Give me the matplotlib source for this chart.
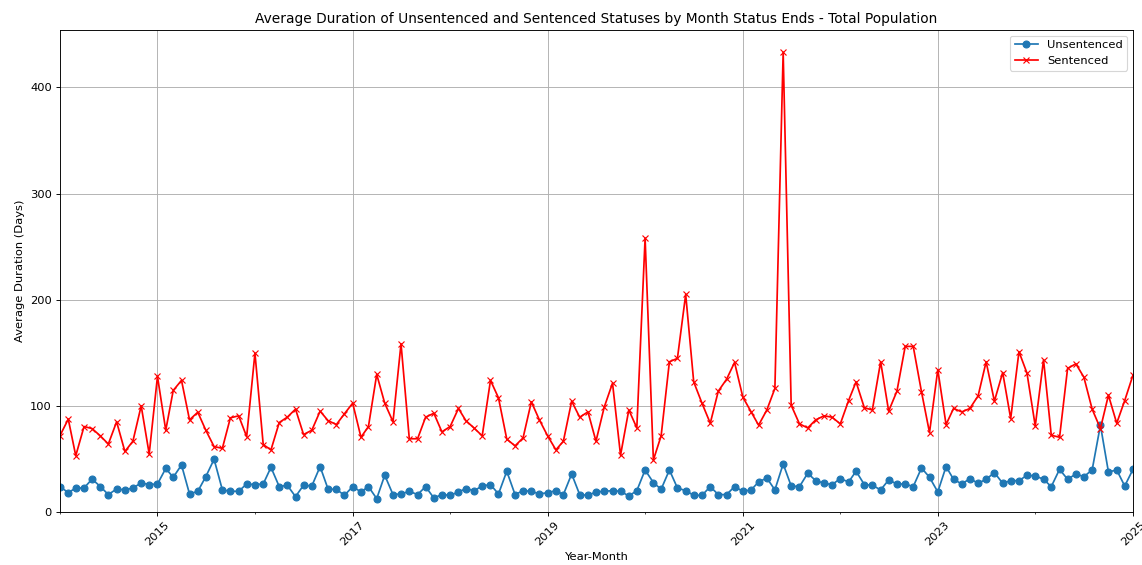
import pandas as pd
import matplotlib.pyplot as plt
import matplotlib.dates as mdates
from matplotlib.ticker import FixedLocator
from datetime import datetime

# Monthly averages, Jan 2014 - Jan 2025
months = pd.date_range('2014-01-01', periods=133, freq='MS')

unsentenced = [
    23.9, 18.2, 22.6, 22.6, 31, 24, 16.4, 21.7, 20.8, 22.6, 27.4, 25.8,
    26.4, 41, 32.7, 44.3, 17, 19.5, 33.3, 49.7, 20.8, 19.5, 19.5, 26.4,
    25.8, 26.4, 42.1, 23.9, 25.2, 14.5, 25.2, 24.5, 42.8, 21.4, 21.4, 15.7,
    23.9, 18.9, 23.9, 12.6, 34.6, 16.4, 17, 19.5, 16.4, 23.9, 13.2, 16.4,
    15.7, 18.9, 22, 20.1, 24.5, 25.8, 17, 38.4, 16.4, 20.1, 19.5, 17,
    18.2, 20.1, 16.4, 35.8, 16.4, 15.7, 18.9, 19.5, 20.1, 19.5, 15.1, 20.1,
    39.6, 27.7, 21.4, 39.6, 22.6, 20.1, 15.7, 15.7, 23.9, 16.4, 16.4, 23.9,
    19.5, 20.8, 28.3, 32, 20.8, 45.3, 24.5, 23.9, 36.5, 29.5, 27.1, 25.8,
    31.4, 28.3, 38.4, 25.8, 25.2, 20.8, 30.2, 26.4, 26.4, 23.9, 41.5, 32.7,
    18.9, 42.8, 30.8, 26.4, 31.4, 27.1, 30.8, 37.1, 27.1, 29.5, 29.5, 34.6,
    34, 30.8, 23.9, 40.2, 30.8, 35.8, 33.3, 39.6, 81.8, 37.7, 39.6, 24.5,
    40.2,
]

sentenced = [
    72, 87.5, 53, 80.5, 78.6, 71.7, 64, 85, 57, 66.7, 100, 54.7,
    127.7, 77, 114.5, 124, 86.8, 94, 77, 61.6, 60, 88.7, 90.6, 71,
    149.7, 63.5, 58.5, 84.3, 89.3, 96.9, 73, 77, 95, 86, 82.4, 92.5,
    102.5, 70.4, 80.5, 129.6, 102.5, 85, 158.5, 69, 69, 89.3, 93, 75.5,
    80.5, 97.5, 86, 79, 71.7, 124, 107.5, 68.6, 62.3, 69.8, 103.8, 86.8,
    71.7, 58.5, 66.7, 104.4, 89.3, 94.3, 66.7, 98.8, 121.4, 53.5, 96.2, 79.2,
    258, 49, 71.7, 141.5, 144.7, 205, 122.6, 102.5, 83.6, 113.8, 125, 140.9,
    108.2, 94.3, 81.8, 96.2, 116.4, 433, 100.6, 83, 79.2, 86.8, 90.6, 89.3,
    83, 105, 122.6, 98.1, 96.2, 141.5, 95, 113.8, 156, 156, 113.2, 74.8,
    134, 82.4, 97.5, 94.3, 97.5, 109.4, 141.5, 104.4, 131.4, 88, 151, 130.8,
    81, 143.4, 72.3, 70.4, 135.2, 139.6, 127, 96.9, 78.6, 110, 83.6, 105,
    129,
]

# the original was rendered larger and scaled down, so use a lower dpi
DPI = 82.7
fig = plt.figure(figsize=(1142 / DPI, 565 / DPI), dpi=DPI)
ax = fig.add_axes([60 / 1142, 53 / 565, 1073 / 1142, 482 / 565])

ax.plot(months, unsentenced, marker='o', color='#1f77b4', label='Unsentenced')
ax.plot(months, sentenced, marker='x', color='red', label='Sentenced')

ax.set_xlim(months[0], months[-1])
ax.set_ylim(bottom=0)

# majors on odd years, minors every year (like pandas' period axis)
ax.xaxis.set_major_locator(FixedLocator(
    [mdates.date2num(datetime(y, 1, 1)) for y in range(2015, 2026, 2)]))
ax.xaxis.set_minor_locator(FixedLocator(
    [mdates.date2num(datetime(y, 1, 1)) for y in range(2014, 2026)]))
ax.xaxis.set_major_formatter(mdates.DateFormatter('%Y'))
plt.setp(ax.get_xticklabels(), rotation=45)

ax.set_title('Average Duration of Unsentenced and Sentenced Statuses by Month Status Ends - Total Population')
ax.set_xlabel('Year-Month')
ax.set_ylabel('Average Duration (Days)')
ax.grid(True)
ax.legend(loc='upper right')

fig.savefig('out.png', dpi=DPI)
